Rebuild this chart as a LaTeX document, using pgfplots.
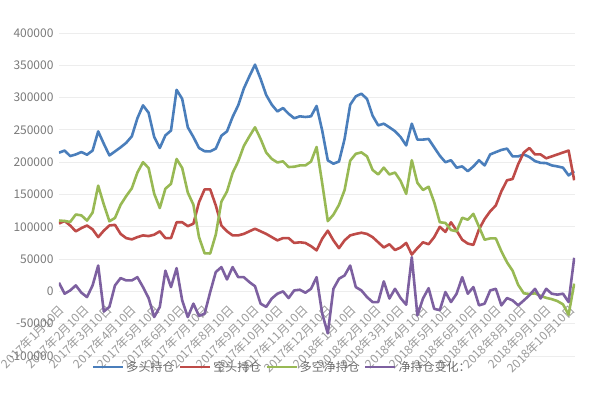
\documentclass[border=0pt]{standalone}
\usepackage{pgfplots}
\pgfplotsset{compat=1.18}
\usepackage{pgfplotstable}
\usepackage{fontspec}
\setmainfont{Noto Sans CJK SC}
\definecolor{cblue}{HTML}{4A7EBB}
\definecolor{cred}{HTML}{BE4B48}
\definecolor{cgreen}{HTML}{98B954}
\definecolor{cpurple}{HTML}{7D60A0}
\definecolor{tickgray}{HTML}{7A7A7A}
\definecolor{xgray}{HTML}{9A9A9A}
\definecolor{leggray}{HTML}{6A6A6A}
\definecolor{gridgray}{HTML}{EDEDED}

\pgfplotstableread{
b r g p
214700 105000 109700 13400
218000 109000 109000 -3600
209500 102000 107500 1500
212000 93000 119000 9300
215700 98000 117700 -2000
211600 102000 109600 -8800
218000 96000 122000 9300
247700 84000 163700 40000
228600 94000 134600 -31000
210500 102000 108500 -24000
216700 103000 113700 9300
223000 89000 134000 20600
230000 82500 147500 17000
240000 80500 159500 17000
268000 84000 184000 22000
288000 86700 200000 6700
276600 85600 191000 -10300
239000 87800 151200 -39700
222000 93000 129000 -24000
241500 82500 159000 32000
249000 82500 166500 6700
312000 107000 205000 36000
298000 107000 191000 -14000
254000 101000 153000 -39700
239000 104800 134200 -19000
222000 138000 84000 -38000
217000 158000 59000 -34500
216700 158000 58700 -1000
221000 133000 88000 30000
241000 102000 139000 37600
247700 93000 154700 18500
270000 86700 183300 37600
288000 86700 201300 22000
314000 89000 225000 22000
333000 93000 240000 14400
351000 97000 254000 8000
329000 93000 236000 -19000
304000 89000 215000 -24000
289000 84000 205000 -11000
278600 79000 199600 -3600
283800 82500 201300 0
275000 82500 192500 -10300
268000 75000 193000 1500
271000 76000 195000 2600
270000 75000 195000 -2000
271000 70000 201000 4000
287000 63500 223500 22000
249000 81500 167500 -34500
202800 94000 108800 -65000
197700 79000 118700 4000
201000 67000 134000 19600
236000 79000 157000 24700
289000 86700 202300 40000
302000 89000 213000 6700
306000 90800 215200 1500
298000 89000 209000 -8800
272000 84000 188000 -16500
257000 76000 181000 -16500
259600 68000 191600 15500
254000 73000 181000 -11000
248000 64000 184000 4000
239000 68000 171000 -10300
226000 75000 151000 -20600
259600 57000 203000 53000
235000 67000 168000 -37000
235000 76000 157000 -11000
236000 73000 162000 5000
223000 84000 138000 -27000
210000 100000 107000 -29000
200000 92000 106000 -1000
203000 107000 95000 -16500
191500 94000 93000 -3600
193500 80000 114000 22000
186000 74000 111000 -3600
193500 72000 120000 6700
203000 96000 100000 -21600
195000 112000 80000 -19000
212000 124000 82000 1500
215600 133000 82000 4000
219000 155000 62000 -21600
221000 172000 45000 -10300
209000 174000 32000 -14000
209000 197000 10000 -21600
212000 215000 -3000 -14000
208000 222000 -4000 -6000
201700 212000 -3000 4000
199000 212000 -7000 -11000
198600 206000 -10000 4000
195000 209000 -12000 -3600
193500 212000 -15000 -5000
191500 215000 -20000 -3600
179600 218000 -36000 -16500
186000 172000 12000 52000
}\data

\begin{document}
\begin{tikzpicture}
\path[use as bounding box] (0,0) rectangle (595pt,393pt);
\begin{axis}[
  at={(59pt,37pt)}, anchor=south west,
  scale only axis, width=516pt, height=323pt,
  xmin=-7, xmax=638, ymin=-100000, ymax=400000,
  ytick={-100000,-50000,0,50000,100000,150000,200000,250000,300000,350000,400000},
  scaled y ticks=false,
  /pgf/number format/assume math mode=true,
  yticklabel style={/pgf/number format/fixed, /pgf/number format/1000 sep={},
    font=\fontsize{12}{14}\selectfont, text=tickgray, xshift=-2pt},
  xtick={0,31,59,90,120,151,181,212,243,273,304,334,365,396,424,455,485,516,546,577,608,638},
  xticklabels={2017年1月10日,2017年2月10日,2017年3月10日,2017年4月10日,2017年5月10日,2017年6月10日,2017年7月10日,2017年8月10日,2017年9月10日,2017年10月10日,2017年11月10日,2017年12月10日,2018年1月10日,2018年2月10日,2018年3月10日,2018年4月10日,2018年5月10日,2018年6月10日,2018年7月10日,2018年8月10日,2018年9月10日,2018年10月10日},
  xticklabel style={rotate=45, anchor=east, font=\fontsize{12}{14}\selectfont, text=xgray},
  xticklabel shift=-51pt,
  major tick length=0pt,
  axis line style={draw=none},
  ymajorgrids, grid style={gridgray, line width=0.8pt},
  legend columns=4,
  legend style={draw=none, fill=none, at={(axis description cs:0.058,-0.034)}, anchor=west,
    font=\fontsize{12}{14}\selectfont, text=leggray,
    /tikz/every even column/.append style={column sep=2pt}},
  legend image code/.code={\draw[#1, line width=2.6pt] (0pt,0pt) -- (30pt,0pt);},
  every axis plot/.append style={line width=2.6pt, line join=round, no markers},
]
\addplot[cblue] table[x expr=\coordindex*7-7, y=b] {\data};
\addplot[cred] table[x expr=\coordindex*7-7, y=r] {\data};
\addplot[cgreen] table[x expr=\coordindex*7-7, y=g] {\data};
\addplot[cpurple] table[x expr=\coordindex*7-7, y=p] {\data};
\legend{多头持仓,空头持仓,多空净持仓,净持仓变化：}
\end{axis}
\end{tikzpicture}
\end{document}
